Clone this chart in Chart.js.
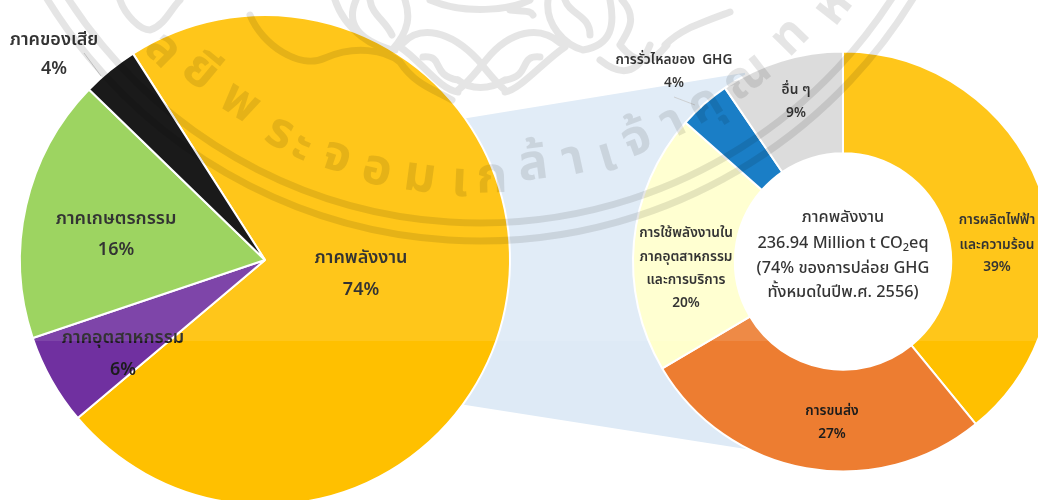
<!DOCTYPE html>
<html><head><meta charset="utf-8">
<style>
html,body{margin:0;padding:0;background:#fff;width:1038px;height:500px;overflow:hidden}
canvas{position:absolute;left:0;top:0}
</style>
<script src="https://cdn.jsdelivr.net/npm/chart.js@4"></script>
</head><body>
<canvas id="pie" width="1038" height="520"></canvas>
<canvas id="donut" width="1038" height="520"></canvas>
<script>
const pieCategories = ['ภาคพลังงาน','ภาคอุตสาหกรรม','ภาคเกษตรกรรม','ภาคของเสีย'];
const pieValues = [72.9, 6.0, 17.4, 3.7];
const piePercentLabels = ['74%','6%','16%','4%'];
const pieColors = ['#FFC000','#7030A0','#92D050','#000000'];

const donutCategories = ['การผลิตไฟฟ้า\nและความร้อน','การขนส่ง','การใช้พลังงานใน\nภาคอุตสาหกรรม\nและการบริการ','การรั่วไหลของ  GHG','อื่น ๆ'];
const donutValues = [39.1, 27.4, 20.0, 4.0, 9.5];
const donutPercentLabels = ['39%','27%','20%','4%','9%'];
const donutColors = ['#FFC000','#ED7D31','#FFFFCC','#0070C0','#D9D9D9'];

const centerLines = ['ภาคพลังงาน',null,'(74% ของการปล่อย GHG','ทั้งหมดในปีพ.ศ. 2556)'];
const centerFormula = ['236.94 Million t CO','2','eq'];

const FONT = "'Noto Sans','Noto Sans Thai','Open Sans',sans-serif";
// label placement: [centre x, [line y…]] by slice index
const pieLabelPos = [[361,[258,290]],[123,[338,370]],[116,[219,250]],[54,[40,69]]];
const donutLabelPos = [[997,[220,245,267]],[832,[411,434]],[686,[233,257,280,303]],[674,[60,83]],[796,[90,113]]];
const centerY = [217,243,268,292];

function drawLabels(ctx, cats, pcts, pos, font, color){
  ctx.save();
  ctx.fillStyle=color; ctx.font=font; ctx.textAlign='center'; ctx.textBaseline='middle';
  cats.forEach((c,i)=>{
    const lines=c.split('\n').concat(pcts[i]);
    lines.forEach((t,j)=>ctx.fillText(t,pos[i][0],pos[i][1][j]));
  });
  ctx.restore();
}
function leader(ctx,x1,y1,x2,y2){
  ctx.save();ctx.strokeStyle='#BFBFBF';ctx.lineWidth=0.75;ctx.beginPath();ctx.moveTo(x1,y1);ctx.lineTo(x2,y2);ctx.stroke();ctx.restore();
}

const wedgePlugin={id:'wedge',beforeDraw(c){
  const x=c.ctx;x.save();x.fillStyle='#DEEAF6';x.beginPath();
  x.moveTo(440,122.5);x.lineTo(745,72.7);x.lineTo(765,452);x.lineTo(440,401);x.closePath();x.fill();x.restore();
}};
const pieLabels={id:'pieLabels',afterDraw(c){
  drawLabels(c.ctx,pieCategories,piePercentLabels,pieLabelPos,"600 18px "+FONT,'#1c1c1c');
  leader(c.ctx,84,53,101,76);
}};

function drawFormula(x,cx,y){
  const main="500 16.3px "+FONT, sub="500 11px "+FONT;
  x.font=main;const w0=x.measureText(centerFormula[0]).width,w2=x.measureText(centerFormula[2]).width;
  x.font=sub;const w1=x.measureText(centerFormula[1]).width;
  let left=cx-(w0+w1+w2)/2;
  x.textAlign='left';
  x.font=main;x.fillText(centerFormula[0],left,y);
  x.font=sub;x.fillText(centerFormula[1],left+w0,y+5);
  x.font=main;x.fillText(centerFormula[2],left+w0+w1,y);
  x.textAlign='center';
}

const donutLabels={id:'donutLabels',
 beforeDatasetsDraw(c){
  const a=c.getDatasetMeta(0).data[0];const x=c.ctx;
  x.save();x.fillStyle='#fff';x.beginPath();x.arc(a.x,a.y,a.innerRadius,0,Math.PI*2);x.fill();x.restore();
 },
 afterDraw(c){
  const x=c.ctx;
  drawLabels(x,donutCategories,donutPercentLabels,donutLabelPos,"600 13.7px "+FONT,'#1c1c1c');
  leader(x,674,97,695,105);
  x.save();x.fillStyle='#1c1c1c';x.font="500 16.3px "+FONT;x.textAlign='center';x.textBaseline='middle';
  centerLines.forEach((t,i)=>{ if(t) x.fillText(t,843,centerY[i]); else drawFormula(x,843,centerY[i]); });
  x.restore();
  drawWatermark(x);
 }};

// scanned-document watermark laid over everything
const wmCenter=[480,-267];
const wmClusters=[['ล',163,50],['ยี',200,72],['พ',240,103],['ร',280,133],['ะ',302,147],['จ',337,157],['อ',377,170],['ม',420,177],['เ',460,182],['ก',492,178],['ล้',533,165],['า',573,160],['เ',607,157],['จ้',637,140],['า',673,123],['คุ',705,105],['ณ',747,77],['ท',790,37],['ห',833,7]];
const wmCurves=[
 [403,43,420,25,450,30,478,60],[478,60,490,75,498,85,505,90],
 [560,43,540,25,510,30,486,60],[486,60,474,75,465,85,458,90],
 [423,57,445,55,430,75,458,80],[540,57,518,55,532,75,506,80],
 [458,80,470,90,490,90,505,80],[400,47,420,60,440,90,458,92],[565,47,545,60,520,90,505,92],
 [430,0,465,15,510,10,530,0],[510,10,525,12,530,10,533,15],
 [356,0,345,25,360,40,392,50],[392,50,410,30,410,15,405,0],[370,0,372,15,385,20,392,35],
 [548,0,545,25,565,45,583,50],[583,50,612,45,615,25,610,0],[565,0,570,15,590,15,590,35],
 [250,15,262,45,300,70,325,58],[325,58,355,45,385,50,400,62],[400,62,415,85,435,90,452,100],
 [335,0,345,30,375,50,395,50],
 [620,45,640,70,655,60,667,45],[665,45,680,30,695,25,730,12],[622,0,640,20,625,35,620,45],
 [600,60,625,80,640,70,650,45],
 [120,0,125,15,140,30,150,30],[150,30,165,25,170,10,180,0]
];
function drawWatermark(x){
  x.save();
  x.fillStyle='rgba(255,255,255,0.1)';x.fillRect(0,0,1038,341);
  x.restore();
  x.save();
  x.strokeStyle='rgba(0,0,0,0.1)';x.lineCap='round';x.lineJoin='round';
  x.lineWidth=7;x.beginPath();
  [490,508].forEach(r=>{x.moveTo(wmCenter[0]+r*Math.cos(Math.PI*0.9),wmCenter[1]+r*Math.sin(Math.PI*0.9));x.arc(wmCenter[0],wmCenter[1],r,Math.PI*0.9,Math.PI*0.08,true);});
  x.stroke();
  x.lineWidth=7;x.beginPath();
  wmCurves.forEach(k=>{x.moveTo(k[0],k[1]);x.bezierCurveTo(k[2],k[3],k[4],k[5],k[6],k[7]);});
  x.stroke();
  x.fillStyle='rgba(0,0,0,0.1)';x.font="700 50px "+FONT;x.textAlign='center';x.textBaseline='middle';
  wmClusters.forEach(g=>{
    const a=Math.atan2(g[2]-wmCenter[1],g[1]-wmCenter[0])-Math.PI/2;
    x.save();x.translate(g[1],g[2]);x.rotate(a);x.fillText(g[0],0,0);x.restore();
  });
  x.restore();
}

const base={responsive:false,maintainAspectRatio:false,animation:false,plugins:{legend:{display:false},tooltip:{enabled:false}}};

new Chart(document.getElementById('pie'),{
  type:'pie',
  data:{labels:pieCategories,datasets:[{data:pieValues,backgroundColor:pieColors,borderColor:'#fff',borderWidth:2,radius:245}]},
  options:{...base,rotation:-32.6,layout:{padding:{left:0,right:508,top:0,bottom:0}}},
  plugins:[wedgePlugin,pieLabels]
});
new Chart(document.getElementById('donut'),{
  type:'doughnut',
  data:{labels:donutCategories,datasets:[{data:donutValues,backgroundColor:donutColors,borderColor:'#fff',borderWidth:2,radius:210}]},
  options:{...base,rotation:0,cutout:'51.5%',layout:{padding:{left:648,right:0,top:3,bottom:0}}},
  plugins:[donutLabels]
});
</script>
</body></html>
